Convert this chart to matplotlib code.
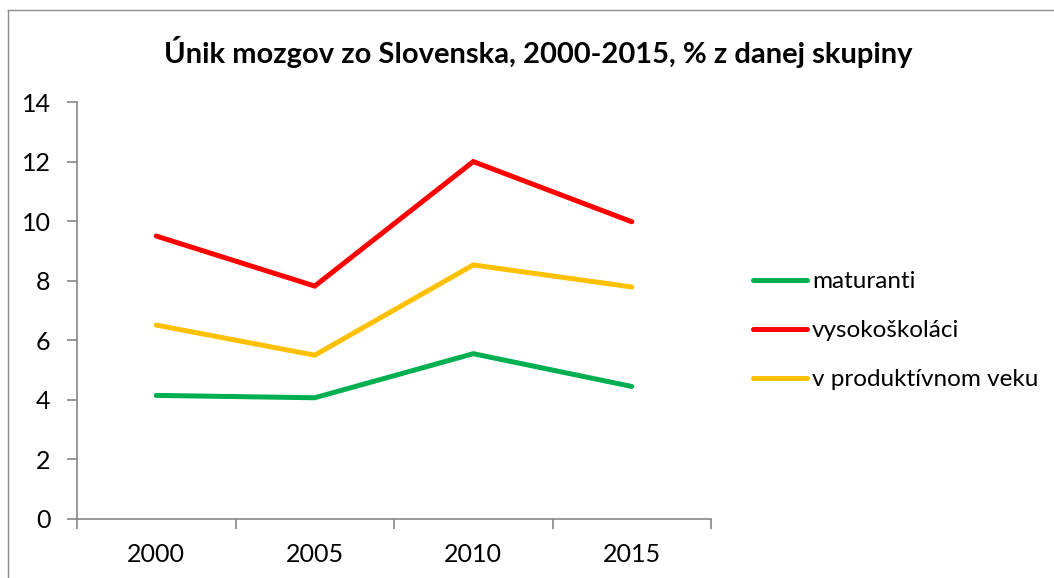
import matplotlib
matplotlib.use("Agg")
import matplotlib.pyplot as plt
from matplotlib.lines import Line2D

plt.rcParams['font.family'] = ['Lato', 'DejaVu Sans']

years = ["2000", "2005", "2010", "2015"]
maturanti = [4.15, 4.07, 5.55, 4.45]
vysokoskolaci = [9.5, 7.82, 12.0, 9.98]
produktivny = [6.51, 5.5, 8.53, 7.79]

series = [
    ("maturanti", maturanti, "#00B050"),
    ("vysokoškoláci", vysokoskolaci, "#FF0000"),
    ("v produktívnom veku", produktivny, "#FFC000"),
]

W, H = 1054, 578
fig = plt.figure(figsize=(W / 100, H / 100), dpi=100)
ax = fig.add_axes([77 / W, 1 - 519 / H, (711 - 77) / W, (519 - 102) / H])

x = list(range(len(years)))
for name, vals, col in series:
    ax.plot(x, vals, color=col, lw=3.6, solid_capstyle='round', solid_joinstyle='miter', label=name)

ax.set_xlim(-0.5, len(years) - 0.5)
ax.set_ylim(0, 14)
ax.set_yticks(range(0, 15, 2))
ax.set_xticks(x)
ax.set_xticklabels(years)
ax.set_xticks([i - 0.5 for i in range(len(years) + 1)], minor=True)
ax.tick_params(axis='x', which='major', length=0, pad=17, labelsize=18)
ax.tick_params(axis='x', which='minor', length=7, color='#868686', width=1.2, direction='out')
ax.tick_params(axis='y', length=7, color='#868686', width=1.2, pad=12, labelsize=18)
for s in ['top', 'right']:
    ax.spines[s].set_visible(False)
for s in ['left', 'bottom']:
    ax.spines[s].set_color('#868686')
    ax.spines[s].set_linewidth(1.2)

fig.text(538 / W, 1 - 52 / H, "Únik mozgov zo Slovenska, 2000-2015, % z danej skupiny",
         ha='center', va='center', fontsize=21, fontweight='bold')

handles = [Line2D([0], [0], color=c, lw=3.6, solid_capstyle='round') for _, _, c in series]
leg = fig.legend(handles, [n for n, _, _ in series], loc='upper left',
                 bbox_to_anchor=(734 / W, 1 - 252 / H), frameon=False, fontsize=17.5,
                 handlelength=2.2, handletextpad=0.2, labelspacing=1.15, borderpad=0.3)

# chart area border (top and left visible)
fig.add_artist(Line2D([8 / W, 1], [1 - 10 / H, 1 - 10 / H], color='#8c8c8c', lw=1.0, transform=fig.transFigure))
fig.add_artist(Line2D([8 / W, 8 / W], [0, 1 - 10 / H], color='#8c8c8c', lw=1.0, transform=fig.transFigure))

fig.savefig("out.png", dpi=100)
